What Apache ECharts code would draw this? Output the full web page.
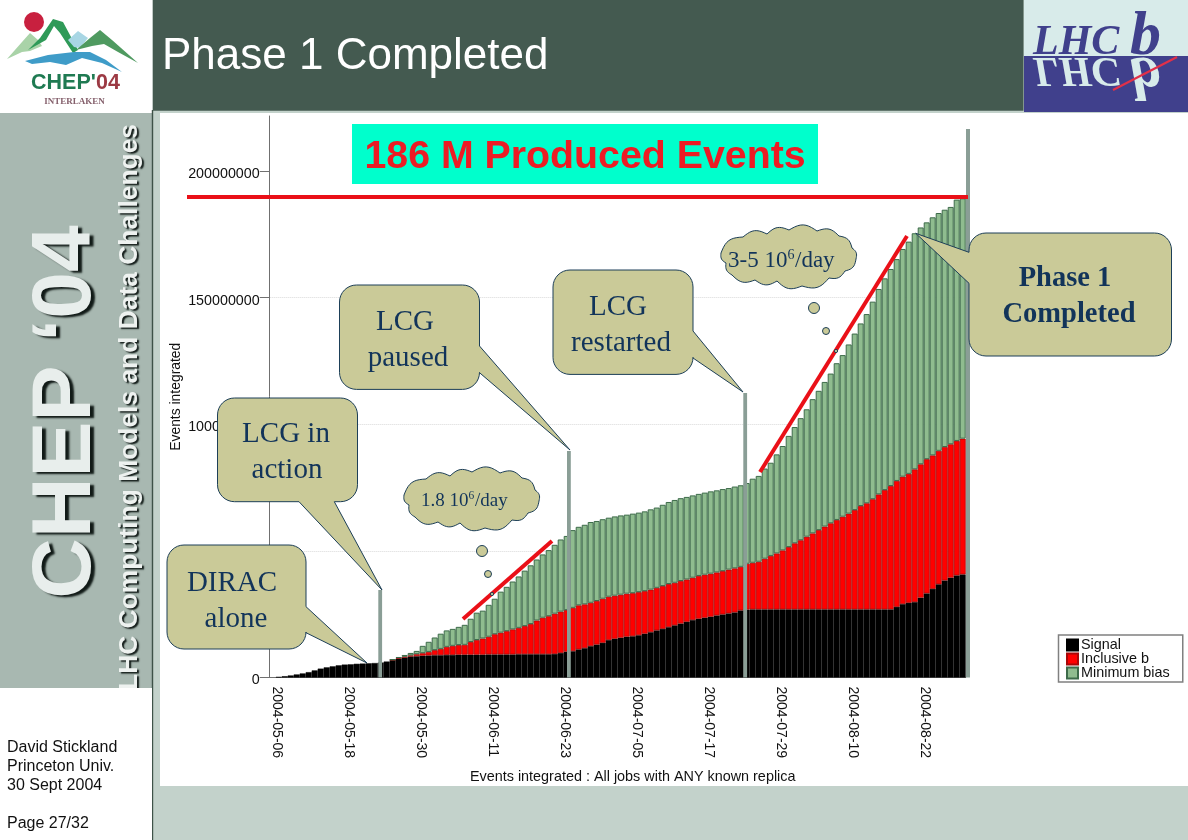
<!DOCTYPE html>
<html>
<head>
<meta charset="utf-8">
<style>html,body{margin:0;padding:0;background:#c3d2cb}#c{width:1188px;height:840px}</style>
<script src="https://cdn.jsdelivr.net/npm/echarts@6/dist/echarts.min.js"></script>
</head>
<body>
<div id="c"></div>
<script>
// In millions of events, one entry per day.
const categories = [
"2004-05-06","2004-05-07","2004-05-08","2004-05-09","2004-05-10","2004-05-11","2004-05-12","2004-05-13","2004-05-14","2004-05-15",
"2004-05-16","2004-05-17","2004-05-18","2004-05-19","2004-05-20","2004-05-21","2004-05-22","2004-05-23","2004-05-24","2004-05-25",
"2004-05-26","2004-05-27","2004-05-28","2004-05-29","2004-05-30","2004-05-31","2004-06-01","2004-06-02","2004-06-03","2004-06-04",
"2004-06-05","2004-06-06","2004-06-07","2004-06-08","2004-06-09","2004-06-10","2004-06-11","2004-06-12","2004-06-13","2004-06-14",
"2004-06-15","2004-06-16","2004-06-17","2004-06-18","2004-06-19","2004-06-20","2004-06-21","2004-06-22","2004-06-23","2004-06-24",
"2004-06-25","2004-06-26","2004-06-27","2004-06-28","2004-06-29","2004-06-30","2004-07-01","2004-07-02","2004-07-03","2004-07-04",
"2004-07-05","2004-07-06","2004-07-07","2004-07-08","2004-07-09","2004-07-10","2004-07-11","2004-07-12","2004-07-13","2004-07-14",
"2004-07-15","2004-07-16","2004-07-17","2004-07-18","2004-07-19","2004-07-20","2004-07-21","2004-07-22","2004-07-23","2004-07-24",
"2004-07-25","2004-07-26","2004-07-27","2004-07-28","2004-07-29","2004-07-30","2004-07-31","2004-08-01","2004-08-02","2004-08-03",
"2004-08-04","2004-08-05","2004-08-06","2004-08-07","2004-08-08","2004-08-09","2004-08-10","2004-08-11","2004-08-12","2004-08-13",
"2004-08-14","2004-08-15","2004-08-16","2004-08-17","2004-08-18","2004-08-19","2004-08-20","2004-08-21","2004-08-22","2004-08-23",
"2004-08-24","2004-08-25","2004-08-26","2004-08-27","2004-08-28","2004-08-29"];

// Top of the black band
const signalTop = [
0,.2,.5,.8,1.2,1.6,2.1,2.8,3.5,4.0,
4.4,4.8,5.1,5.2,5.4,5.5,5.6,5.7,5.9,6.3,
6.9,7.5,7.9,8.3,8.4,8.6,8.7,8.8,8.8,8.9,
8.9,9.0,9.0,9.0,9.0,9.0,9.1,9.1,9.1,9.1,
9.1,9.2,9.2,9.2,9.2,9.2,9.2,9.3,9.7,10.2,
10.4,11.1,11.6,12.4,13.0,13.7,14.8,15.3,15.7,16.1,
16.3,16.7,17.3,17.9,18.6,19.2,19.9,20.6,21.3,22.0,
22.7,23.2,23.6,24.0,24.5,24.9,25.3,25.7,26.5,26.8,
26.9,26.9,26.9,26.9,26.9,26.9,26.9,26.9,26.9,26.9,
26.9,26.9,26.9,26.9,26.9,26.9,26.9,26.9,26.9,26.9,
26.9,26.9,26.9,26.9,27.9,29.0,29.5,29.8,31.5,33.2,
35.0,36.8,38.3,39.4,40.3,40.7];

// Top of the red band
const inclusiveTop = [
0,.2,.5,.8,1.2,1.6,2.1,2.8,3.5,4.0,
4.4,4.8,5.1,5.2,5.4,5.5,5.6,5.7,5.9,6.3,
7.0,7.8,8.2,8.7,9.2,9.6,10.1,10.8,11.3,12.1,
12.5,12.8,12.9,14.0,14.8,15.4,16.1,17.1,17.7,18.3,
19.0,19.6,20.3,21.1,22.5,23.6,24.2,25.2,26.0,26.6,
27.5,28.5,28.9,29.5,30.2,31.1,31.9,32.3,32.7,33.1,
33.3,33.7,34.1,34.7,35.4,36.1,36.9,37.4,38.1,38.7,
39.4,40.1,40.6,41.0,41.5,42.0,42.6,43.1,43.7,44.9,
45.3,45.7,46.9,48.0,49.0,50.2,51.5,53.0,54.2,55.6,
56.9,58.2,59.6,60.9,62.2,63.5,64.7,66.1,67.7,68.8,
70.4,72.3,74.0,75.6,77.6,79.3,80.4,82.2,84.2,86.2,
87.7,89.5,91.0,92.1,93.4,94.3];

// Top of the green band (whole bar)
const totalTop = [
0,.2,.5,.8,1.2,1.6,2.1,2.8,3.5,4.0,
4.4,4.8,5.1,5.2,5.4,5.5,5.6,5.7,5.9,6.3,
7.1,8.0,8.9,9.7,10.5,12.5,14.1,15.8,17.3,18.6,
19.2,20.0,20.8,23.2,25.6,26.4,28.7,31.1,33.9,35.8,
37.9,39.9,42.2,44.3,46.6,48.6,50.3,52.4,54.5,55.9,
58.2,59.5,60.3,61.4,61.8,62.5,63.1,63.6,64.0,64.3,
64.7,65.1,65.6,66.4,67.1,68.2,69.3,70.1,70.8,71.3,
71.9,72.5,73.0,73.5,73.9,74.4,74.8,75.4,75.9,76.8,
78.5,79.6,82.5,84.8,88.1,91.4,95.4,98.9,102.4,105.9,
109.9,113.2,116.7,120.0,124.1,127.3,131.5,135.8,139.8,143.5,
148.4,153.4,157.6,161.3,165.2,169.2,172.1,175.4,177.7,179.7,
181.7,183.4,184.7,185.8,188.7,189.2];

const seriesNames = ["Signal","Inclusive b","Minimum bias"];
const yTicks = [0,50000000,100000000,150000000,200000000];

const M = 1e6;
const band = (top, bottom) => top.map((v, i) => {
  const d = bottom ? v - bottom[i] : v;
  return d > 0.001 ? Math.round(d * 10) / 10 * M : null;
});

// ---------- shape helpers for the slide decoration ----------
function arc(cx, cy, r, a0, a1, n) {
  const out = [];
  for (let k = 0; k <= n; k++) {
    const a = a0 + (a1 - a0) * k / n;
    out.push([cx + r * Math.cos(a), cy + r * Math.sin(a)]);
  }
  return out;
}
// Rounded box with a wedge. side: 'r','b','l'
function callout(x, y, w, h, r, side, a, b, tip) {
  const P = Math.PI, pts = [];
  pts.push(...arc(x + w - r, y + r, r, -P / 2, 0, 8));
  if (side === 'r') pts.push([x + w, a], tip, [x + w, b]);
  pts.push(...arc(x + w - r, y + h - r, r, 0, P / 2, 8));
  if (side === 'b') pts.push([b, y + h], tip, [a, y + h]);
  pts.push(...arc(x + r, y + h - r, r, P / 2, P, 8));
  if (side === 'l') pts.push([x, b], tip, [x, a]);
  pts.push(...arc(x + r, y + r, r, P, 1.5 * P, 8));
  return pts;
}
function cloud(ox, oy) {
  const c = [[4,27],[26,11],[50,8],[72,4],[100,5],[122,10],[135,22],[139,33],[128,45],[112,52],[85,60],[60,55],[38,54],[15,49],[9,37]];
  const pts = [];
  c.forEach((p, i) => {
    const q = c[(i + 1) % c.length];
    const dx = q[0] - p[0], dy = q[1] - p[1], len = Math.hypot(dx, dy);
    const nx = dy / len, ny = -dx / len, bulge = len * 0.2;
    for (let k = 0; k < 10; k++) {
      const t = k / 10, s = Math.sin(Math.PI * t) * bulge;
      pts.push([ox + p[0] + dx * t + nx * s, oy + p[1] + dy * t + ny * s]);
    }
  });
  return pts;
}

const BG = -20, TOP = 100;
const box = (x, y, w, h, fill, z) => ({type:'rect', z: z === undefined ? BG : z, silent:true, shape:{x, y, width:w, height:h}, style:{fill}});
const txt = (text, x, y, font, fill, extra, z) => ({type:'text', z: z === undefined ? TOP + 2 : z, silent:true, x, y, style:Object.assign({text, font, fill, align:'left', verticalAlign:'middle'}, extra || {})});
const rotated = (text, x, y, font, fill, extra) => Object.assign(txt(text, x, y, font, fill, extra, -15), {rotation:Math.PI / 2});
const poly = (points, fill, z, stroke, lw) => ({type:'polygon', z: z === undefined ? TOP : z, silent:true, shape:{points}, style:{fill, stroke: stroke || 'none', lineWidth: lw || 0}});
const seg = (x1, y1, x2, y2, stroke, lineWidth, z) => ({type:'line', z: z === undefined ? TOP : z, silent:true, shape:{x1, y1, x2, y2}, style:{stroke, lineWidth}});
const dot = (cx, cy, r) => ({type:'circle', z:TOP, silent:true, shape:{cx, cy, r}, style:{fill:CALL, stroke:CALLEDGE, lineWidth:1}});

const CALL = '#caca98', CALLEDGE = '#1d3f58', INK = '#12345a', MARK = '#8a9e96', RED = '#ea1018';
const SERIF = '"Liberation Serif"', SANS = '"Liberation Sans"';
const sideShadow = {textShadowColor:'#111a17', textShadowOffsetX:4, textShadowOffsetY:2, textShadowBlur:2};
const sideShadowSmall = {textShadowColor:'#111a17', textShadowOffsetX:2, textShadowOffsetY:1.5, textShadowBlur:1.5};

const graphicEls = [
  // frame
  box(153, 0, 1035, 840, '#c3d2cb'),
  box(160, 113, 1028, 673, '#ffffff'),
  box(152.5, 0, 871, 110.7, '#445a50'),
  box(0, 0, 152.5, 113, '#ffffff'),
  box(0, 113, 152, 575, '#a8b8b1'),
  box(151.8, 110, 1.4, 730, '#3e5248'),
  // sidebar text
  rotated('CHEP \u201804', 67, 412, 'bold 84px ' + SANS, '#e8eeec', Object.assign({align:'center'}, sideShadow)),
  rotated('LHC Computing Models and Data Challenges', 130, 124, 'bold 26.4px ' + SANS, '#eef2f0', Object.assign({align:'right'}, sideShadowSmall)),
  box(0, 688, 152, 152, '#ffffff', -14),
  // credits
  txt('David Stickland', 7, 748, '16px ' + SANS, '#111111'),
  txt('Princeton Univ.', 7, 767, '16px ' + SANS, '#111111'),
  txt('30 Sept 2004', 7, 786, '16px ' + SANS, '#111111'),
  txt('Page 27/32', 7, 824, '16px ' + SANS, '#111111'),
  // title
  txt('Phase 1 Completed', 162, 57, '44px ' + SANS, '#ffffff'),
  // CHEP logo
  poly([[7,59],[22,42],[30,33],[38,40],[42,46],[30,51],[22,52]], '#a9d3a8', TOP),
  poly([[28,50],[40,38],[53,19],[63,22],[78,50],[73,53],[60,33],[54,26],[46,40]], '#2f9a58', TOP),
  poly([[68,40],[78,31],[88,38],[80,48],[74,47]], '#a8d6e4', TOP),
  poly([[76,50],[90,38],[100,30],[112,40],[138,63],[118,52],[104,44],[92,46]], '#4f9a60', TOP),
  poly([[25,61],[48,55],[74,52],[90,52],[106,60],[122,72],[102,63],[82,58],[66,65],[50,62],[32,64]], '#3f9cc8', TOP),
  {type:'circle', z:TOP + 1, silent:true, shape:{cx:34, cy:22, r:10}, style:{fill:'#c8203f'}},
  txt("CHEP'", 31, 83, 'bold 21.5px ' + SANS, '#1f7a52'),
  txt('04', 96, 83, 'bold 21.5px ' + SANS, '#9c3a44'),
  txt('INTERLAKEN', 74.5, 102, 'bold 9px ' + SERIF, '#85606c', {align:'center'}),
  // LHCb logo
  box(1024, 0, 164, 56, '#d8ebea', TOP),
  box(1024, 56, 164, 56, '#40408c', TOP),
  txt('LHC', 1033, 43, 'italic bold 42px ' + SERIF, '#40408c'),
  txt('b', 1130, 38, 'italic bold 62px ' + SERIF, '#40408c'),
  {type:'text', z:TOP + 2, silent:true, x:1033, y:69, scaleY:-1, style:{text:'LHC', font:'italic bold 42px ' + SERIF, fill:'#d8ebea', align:'left', verticalAlign:'middle'}},
  {type:'text', z:TOP + 2, silent:true, x:1130, y:74, scaleY:-1, style:{text:'b', font:'italic bold 62px ' + SERIF, fill:'#d8ebea', align:'left', verticalAlign:'middle'}},
  seg(1113, 90, 1177, 57, '#e23048', 2.2, TOP + 2),
  // annotation bars
  box(378.3, 590, 3.8, 87.5, MARK, 50),
  box(567, 451, 3.8, 226.5, MARK, 50),
  box(743.3, 393, 3.8, 284.5, MARK, 50),
  box(966, 129, 4, 548.5, MARK, 50),
  // red lines
  seg(187, 197, 968, 197, RED, 4, 60),
  seg(463, 619, 552, 541, RED, 4, 60),
  seg(760, 472, 907, 236, RED, 4, 60),
  // banner
  box(352, 124, 466, 60, '#00ffcc', 60),
  txt('186 M Produced Events', 585, 157, 'bold 39.3px ' + SANS, '#ec1c24', {align:'center'}),
  // callouts
  poly(callout(167, 545, 139, 104, 17, 'r', 606.7, 632.7, [367, 663]), CALL, TOP, CALLEDGE, 1),
  poly(callout(217.5, 398, 140, 103.7, 17, 'b', 299, 334.3, [382, 590]), CALL, TOP, CALLEDGE, 1),
  poly(callout(339.5, 285, 140, 104.4, 17, 'r', 346, 372.7, [570, 450]), CALL, TOP, CALLEDGE, 1),
  poly(callout(553, 270, 140, 104.4, 17, 'r', 331, 358, [743, 392]), CALL, TOP, CALLEDGE, 1),
  poly(callout(969, 233, 202.5, 123, 17, 'l', 252.3, 283.3, [915.7, 233.3]), CALL, TOP, CALLEDGE, 1),
  txt('DIRAC', 232, 583, '29px ' + SERIF, INK, {align:'center'}),
  txt('alone', 236, 619, '29px ' + SERIF, INK, {align:'center'}),
  txt('LCG in', 286, 434, '29px ' + SERIF, INK, {align:'center'}),
  txt('action', 287, 470, '29px ' + SERIF, INK, {align:'center'}),
  txt('LCG', 405, 322, '29px ' + SERIF, INK, {align:'center'}),
  txt('paused', 408, 358, '29px ' + SERIF, INK, {align:'center'}),
  txt('LCG', 618, 307, '29px ' + SERIF, INK, {align:'center'}),
  txt('restarted', 621, 343, '29px ' + SERIF, INK, {align:'center'}),
  txt('Phase 1', 1065, 279, 'bold 28.5px ' + SERIF, INK, {align:'center'}),
  txt('Completed', 1069, 315, 'bold 28.5px ' + SERIF, INK, {align:'center'}),
  // thought clouds
  poly(cloud(400, 468), CALL, TOP, CALLEDGE, 1),
  dot(482, 551, 5.5), dot(488, 574, 3.5), dot(492, 594, 1.6),
  txt('1.8 10', 421, 501, '19px ' + SERIF, INK),
  txt('6', 468.5, 496, '11.5px ' + SERIF, INK),
  txt('/day', 475, 501, '19px ' + SERIF, INK),
  poly(cloud(717, 226), CALL, TOP, CALLEDGE, 1),
  dot(814, 308, 5.5), dot(826, 331, 3.5), dot(836, 351, 1.6),
  txt('3-5 10', 728, 261, '23px ' + SERIF, INK),
  txt('6', 787.5, 255, '14px ' + SERIF, INK),
  txt('/day', 795, 261, '23px ' + SERIF, INK)
];

const GREY = '#707070';
const chart = echarts.init(document.getElementById('c'), null, {renderer:'canvas', width:1188, height:840});
chart.setOption({
  animation:false,
  backgroundColor:'transparent',
  graphic:{elements:graphicEls},
  legend:{
    data:seriesNames, orient:'vertical', left:1058.5, top:635, selectedMode:false,
    itemWidth:11, itemHeight:11, itemGap:0, padding:[3,13,2,7.5], icon:'rect',
    borderColor:'#808080', borderWidth:1.5, backgroundColor:'#ffffff',
    textStyle:{fontFamily:SANS, fontSize:14.4, color:'#111111', padding:[0,0,0,-2]}
  },
  grid:{left:269.7, top:116, width:696, height:561.5, containLabel:false},
  xAxis:{
    type:'category', data:categories, boundaryGap:true,
    name:'Events integrated : All jobs with ANY known replica',
    nameLocation:'middle', nameGap:93, nameMoveOverlap:false,
    nameTextStyle:{fontFamily:SANS, fontSize:14.4, color:'#111111', padding:[0,0,0,30]},
    axisLine:{lineStyle:{color:GREY, width:1}},
    axisTick:{alignWithLabel:true, interval:11, length:8, lineStyle:{color:GREY, width:1}},
    axisLabel:{interval:11, rotate:-90, margin:9, fontFamily:SANS, fontSize:14, color:'#111111', verticalAlign:'bottom', lineHeight:9},
    splitLine:{show:false}
  },
  yAxis:{
    type:'value', min:0, max:221.7 * M, interval:50000000,
    name:'Events integrated', nameLocation:'middle', nameGap:87, nameMoveOverlap:false,
    nameTextStyle:{fontFamily:SANS, fontSize:13.9, color:'#111111'},
    axisLine:{show:true, lineStyle:{color:GREY, width:1}},
    axisTick:{show:true, length:10, lineStyle:{color:GREY, width:1}, customValues:yTicks},
    axisLabel:{margin:10, fontFamily:SANS, fontSize:14.3, color:'#111111', verticalAlign:'top', lineHeight:6, customValues:yTicks, formatter:v => String(v)},
    splitLine:{show:true, showMaxLine:false, showMinLine:false, lineStyle:{color:'#d9d9d9', type:'dotted', width:1}}
  },
  series:[
    {name:seriesNames[0], type:'bar', stack:'events', barWidth:'100%', data:band(signalTop), itemStyle:{color:'#000000', borderColor:'#000000', borderWidth:0.5}},
    {name:seriesNames[1], type:'bar', stack:'events', barWidth:'100%', data:band(inclusiveTop, signalTop), itemStyle:{color:'#ff0000', borderColor:'#a80808', borderWidth:0.8}},
    {name:seriesNames[2], type:'bar', stack:'events', barWidth:'100%', data:band(totalTop, inclusiveTop), itemStyle:{color:'#8fbc8f', borderColor:'#3d6b4a', borderWidth:1}}
  ]
});
</script>
</body>
</html>
